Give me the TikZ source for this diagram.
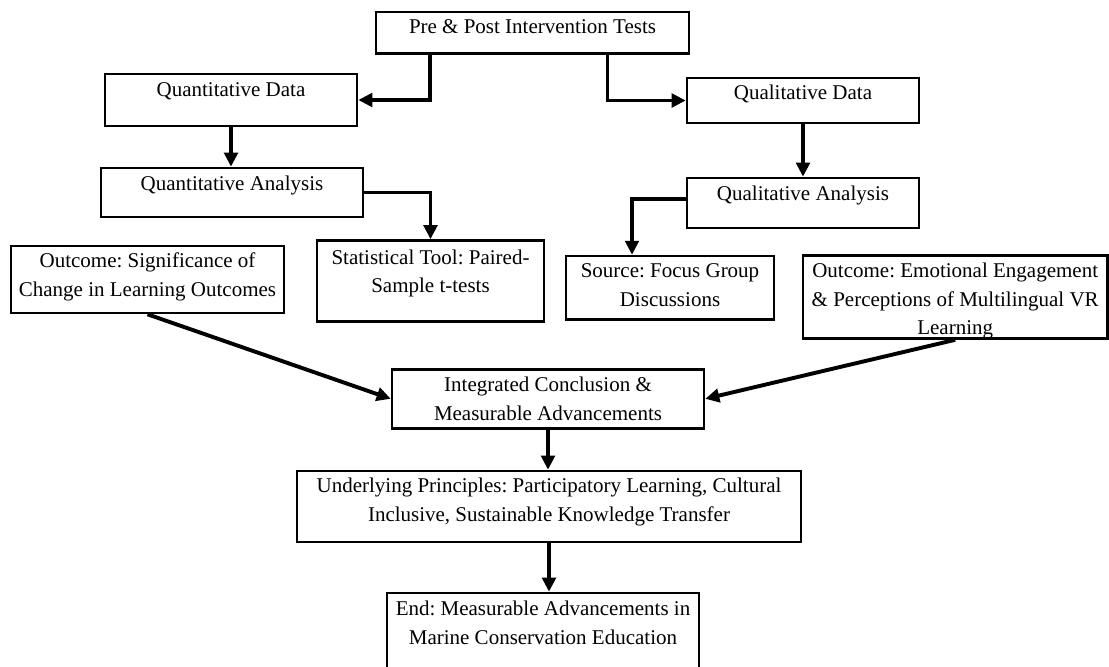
\documentclass[tikz,border=0pt]{standalone}
\usepackage{fontspec}
\setmainfont{Liberation Serif}
\usetikzlibrary{arrows.meta}
% box content: width, height, top gap, lines
\newcommand{\boxlines}[4]{\parbox[c][#2pt][t]{#1pt}{\centering\vspace*{#3pt}\strut#4}}
\tikzset{
  flowbox/.style={draw, line width=2.6pt, inner sep=0pt, font=\fontsize{21}{28.5}\selectfont\frenchspacing},
  flowarrow/.style={line width=3.9pt, -{Triangle[length=14pt,width=13.5pt]}},
}
\begin{document}
\begin{tikzpicture}[x=1pt,y=-1pt]
        \useasboundingbox (0,0) rectangle (1109,667);

          % top 
        \node[flowbox] (tests) at (532.5,32.7) {\boxlines{313}{41.3}{1}{Pre \& Post Intervention Tests}};

          % data 
        \node[flowbox] (qnd) at (231,100) {\boxlines{252}{52}{2.5}{Quantitative Data}};
        \node[flowbox] (qld) at (803,100.5) {\boxlines{232}{45}{2}{Qualitative Data}};

          % analysis 
        \node[flowbox] (qna) at (232,192.5) {\boxlines{262}{49}{3}{Quantitative Analysis}};
        \node[flowbox] (qla) at (803,203) {\boxlines{232}{50}{2.7}{Qualitative Analysis}};

          % tools and outcomes 
        \node[flowbox] (sig) at (147.5,279.5) {\boxlines{273}{67}{2}{Outcome: Significance of\\Change in Learning Outcomes}};
        \node[flowbox] (stat) at (430.5,281) {\boxlines{227}{81}{4}{Statistical Tool: Paired-\\Sample t-tests}};
        \node[flowbox] (src) at (670,287.8) {\boxlines{208}{63.5}{1.8}{Source: Focus Group\\Discussions}};
        \node[flowbox] (emo) at (955.2,297) {\boxlines{304.5}{83}{2.3}{Outcome: Emotional Engagement\\\& Perceptions of Multilingual VR\\Learning}};

          % conclusion 
        \node[flowbox] (intg) at (548,398.8) {\boxlines{312}{59}{2.4}{Integrated Conclusion \&\\Measurable Advancements}};
        \node[flowbox] (und) at (549,506.5) {\boxlines{504}{71}{1.6}{Underlying Principles: Participatory Learning, Cultural\\Inclusive, Sustainable Knowledge Transfer}};
        \node[flowbox] (end) at (543,633) {\boxlines{312}{80}{3}{End: Measurable Advancements in\\Marine Conservation Education}};

          % connectors 
        \draw[flowarrow] ([xshift=-102.5pt]tests.south) |- (qnd.east);
        \draw[flowarrow] ([xshift=75pt]tests.south) |- (qld.west);
        \draw[flowarrow] (qnd.south) -- (qnd.south |- qna.north);
        \draw[flowarrow] (qld.south) -- (qld.south |- qla.north);
        \draw[flowarrow] (qna.east) -| (stat.north);
        \draw[flowarrow] ([yshift=4pt]qla.west) -| ([xshift=-38pt]src.north);
        \draw[flowarrow] (sig.south) -- (intg.west);
        \draw[flowarrow] (emo.south) -- (intg.east);
        \draw[flowarrow] (intg.south) -- (intg.south |- und.north);
        \draw[flowarrow] (und.south) -- (und.south |- end.north);
\end{tikzpicture}
\end{document}
